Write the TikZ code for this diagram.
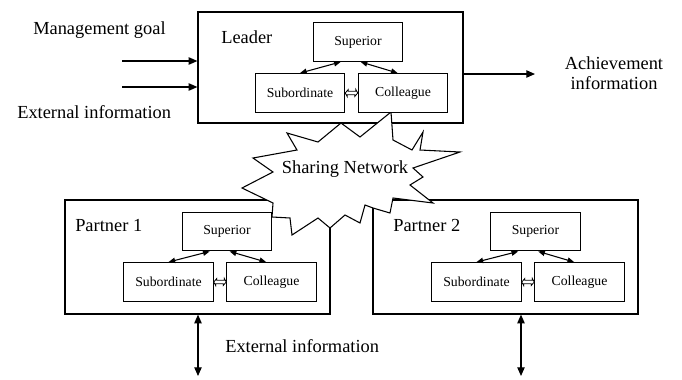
\documentclass[tikz,border=0pt]{standalone}
\usepackage{fontspec}
\setmainfont{Liberation Serif}
\usetikzlibrary{arrows.meta}

\newcommand\mainsize{\fontsize{13.8}{15}\selectfont}
\newcommand\rolesize{\fontsize{10.3}{12}\selectfont}

\tikzset{
  bigbox/.style={draw, line width=0.9pt, minimum width=198.75pt, inner sep=0pt},
  rolebox/.style={draw, fill=white, line width=0.9pt, minimum width=67pt, minimum height=29pt, inner sep=0pt, font=\rolesize},
  lbl/.style={inner sep=0pt, font=\mainsize},
  arr/.style={line width=0.9pt, -{Triangle[length=6.5pt,width=5.5pt]}},
  twoway/.style={line width=0.9pt, {Triangle[length=6.5pt,width=5.5pt]}-{Triangle[length=6.5pt,width=5.5pt]}},
  small/.style={line width=0.8pt, {Triangle[length=5pt,width=4pt]}-{Triangle[length=5pt,width=4pt]}},
  swap/.style={line width=0.6pt, line join=miter, fill=white}
}

\begin{document}
\begin{tikzpicture}[x=0.75pt,y=-0.75pt]
  \useasboundingbox (0,0) rectangle (682,379);

  \node (leader)   at (330.5,67.5) [bigbox,minimum height=83.25pt] {};
  \node (partnera) at (197.5,257)  [bigbox,minimum height=85.5pt] {};
  \node (partnerb) at (505.5,257)  [bigbox,minimum height=85.5pt] {};

  % sharing network
  \draw[line width=0.8pt,fill=white] (287,133) -- (318,142) -- (341,123) -- (360,137)
    -- (391,112) -- (393,140) -- (412,150) -- (423,132) -- (420,150) -- (460,152)
    -- (413,168) -- (423,177) -- (410,185) -- (433,203) -- (393,198) -- (390,213)
    -- (373,208) -- (365,205) -- (360,223) -- (345,215) -- (330,228) -- (318,218)
    -- (292,235) -- (290,218) -- (272,217) -- (273,203) -- (242,188) -- (273,172)
    -- (253,158) -- (297,150) -- cycle;
  \node (net) at (345,169) [lbl] {Sharing Network};

  \node (leadsup) at (358,42)    [rolebox] {Superior};
  \node (leadsub) at (300,93)    [rolebox] {Subordinate};
  \node (leadcol) at (403,93)    [rolebox] {Colleague};
  \node (asup)    at (227,231.5) [rolebox] {Superior};
  \node (asub)    at (168.5,282) [rolebox] {Subordinate};
  \node (acol)    at (271.5,282) [rolebox] {Colleague};
  \node (bsup)    at (535.5,231.5) [rolebox] {Superior};
  \node (bsub)    at (476.5,282) [rolebox] {Subordinate};
  \node (bcol)    at (579.5,282) [rolebox] {Colleague};

  \node (leadname) at (221,37)  [lbl,anchor=west] {Leader};
  \node (aname)    at (75,226)  [lbl,anchor=west] {Partner 1};
  \node (bname)    at (393,225) [lbl,anchor=west] {Partner 2};

  \foreach \s/\b/\c in {leadsup/leadsub/leadcol, asup/asub/acol, bsup/bsub/bcol} {
    \draw[small] (\b.north) -- ([xshift=-13pt]\s.south);
    \draw[small] ([xshift=2pt]\s.south) -- ([xshift=-4pt]\c.north);
    \draw[swap] (\b.east) -- ++(3,-3.5) -- ++(0,1.8) -- ++(7.6,0) -- ++(0,-1.8)
      -- (\c.west) -- ++(-3,3.5) -- ++(0,-1.8) -- ++(-7.6,0) -- ++(0,1.8) -- cycle;
  }

  \node (goal)    at (33,30)   [lbl,anchor=west] {Management goal};
  \node (extin)   at (17,112)  [lbl,anchor=west] {External information};
  \node (achieve) at (614,73)  [lbl,align=center] {Achievement\\information};
  \node (extout)  at (225,346) [lbl,anchor=west] {External information};

  \coordinate (goalin) at (122,61);
  \coordinate (extfrom) at (122,87);
  \coordinate (achto) at (535,74);
  \coordinate (aext) at (198,376);
  \coordinate (bext) at (521,376);

  \draw[arr] (goalin) -- (goalin -| leader.west);
  \draw[arr] (extfrom) -- (extfrom -| leader.west);
  \draw[arr] (achto -| leader.east) -- (achto);
  \draw[twoway] (aext |- partnera.south) -- (aext);
  \draw[twoway] (bext |- partnerb.south) -- (bext);
\end{tikzpicture}
\end{document}
